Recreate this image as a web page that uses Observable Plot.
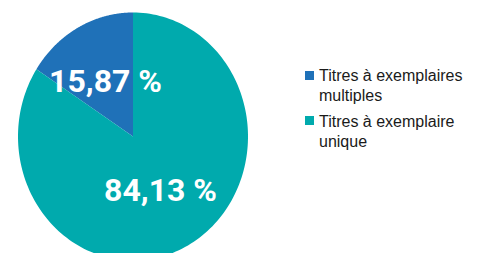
<!DOCTYPE html>
<html>
<head>
<meta charset="utf-8">
<script src="https://cdn.jsdelivr.net/npm/d3@7"></script>
<script src="https://cdn.jsdelivr.net/npm/@observablehq/plot@0.6"></script>
<style>
  html, body { margin: 0; padding: 0; background: #fff; }
  #wrap { position: relative; width: 478px; height: 253px; overflow: hidden; }
  #legend { position: absolute; left: 305px; top: 66px; width: 172px;
    font-family: "Liberation Sans", Arial, sans-serif; font-size: 16px; line-height: 20px; color: #1a1a1a; }
  .item { display: flex; align-items: flex-start; margin-bottom: 5.5px; }
  .sw { width: 9px; height: 9px; margin-top: 4.5px; margin-right: 5px; flex: none; }
  .lbl { width: 156px; }
</style>
</head>
<body>
<div id="wrap"><div id="legend"></div></div>
<script>
const categories = ["Titres à exemplaires multiples", "Titres à exemplaire unique"];
const legendLines = [["Titres à exemplaires", "multiples"], ["Titres à exemplaire", "unique"]];
const shares = [15.87, 84.13];
const valueLabels = ["15,87 %", "84,13 %"];
const colors = ["#1f71b8", "#00aaad"];

const rows = categories.map((c, i) => ({name: c, share: shares[i], label: valueLabels[i]}));
const arcs = d3.pie().sort(null).value(d => d.share).startAngle(0).endAngle(-2 * Math.PI)(rows);

const N = 180;
const pts = [];
arcs.forEach(a => {
  pts.push({name: a.data.name, x: 0, y: 0});
  for (let i = 0; i <= N; i++) {
    const t = a.startAngle + (a.endAngle - a.startAngle) * i / N;
    pts.push({name: a.data.name, x: Math.sin(t), y: Math.cos(t)});
  }
  pts.push({name: a.data.name, x: 0, y: 0});
});
const labelRows = arcs.map(a => {
  const m = (a.startAngle + a.endAngle) / 2;
  return {label: a.data.label, x: 0.5 * Math.sin(m), y: 0.5 * Math.cos(m)};
});

const chart = Plot.plot({
  width: 478,
  height: 253,
  margin: 0,
  x: {domain: [-1, 1], range: [17.5, 247.5], axis: null},
  y: {domain: [-1, 1], range: [260, 12], axis: null},
  color: {domain: categories, range: colors},
  style: {background: "transparent"},
  marks: [
    Plot.line(pts, {x: "x", y: "y", z: "name", fill: "name", stroke: null, curve: "linear"}),
    Plot.text(labelRows, {x: "x", y: "y", text: "label", fill: "white", fontSize: 32,
      fontWeight: "bold", fontFamily: "Roboto, 'Liberation Sans', sans-serif", textAnchor: "middle"})
  ]
});
document.getElementById("wrap").prepend(chart);

const legend = document.getElementById("legend");
categories.forEach((c, i) => {
  const item = document.createElement("div");
  item.className = "item";
  const sw = document.createElement("div");
  sw.className = "sw";
  sw.style.background = colors[i];
  const lbl = document.createElement("div");
  lbl.className = "lbl";
  lbl.innerHTML = legendLines[i].join("<br>");
  item.append(sw, lbl);
  legend.append(item);
});
</script>
</body>
</html>
